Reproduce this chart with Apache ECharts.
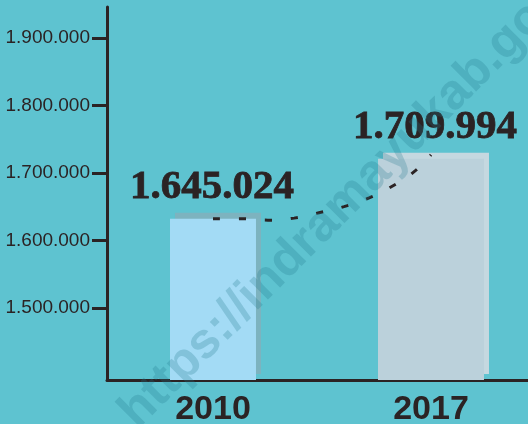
<!DOCTYPE html>
<html>
<head>
<meta charset="utf-8">
<script src="https://cdn.jsdelivr.net/npm/echarts@6/dist/echarts.min.js"></script>
<style>
  html, body { margin: 0; padding: 0; background: #5ec3d0; }
  #main { width: 528px; height: 424px; }
</style>
</head>
<body>
<div id="main"></div>
<script>
// categories and values
const years = ['2010', '2017'];
const printedValues = [1645024, 1709994];   // numbers written above the bars
const barValues = [1632000, 1721000];       // bar tops as drawn
const yTicks = [1500000, 1600000, 1700000, 1800000, 1900000];

// dotted trend curve (x in category units)
const trendX = [0, 0.133, 0.252, 0.372, 0.486, 0.601, 0.716, 0.826, 0.927, 1];
const trendY = [1632000, 1632000, 1630000, 1633000, 1641000, 1650000, 1663000, 1681000, 1703000, 1727000];

const dark = '#2b2324';
const barColors = ['#a3dbf5', '#bbd1db'];
const shadowColors = ['#7db3bf', '#c5d8e0'];
const barWidths = [86, 106];
const yMin = 1393000;

const dotted = n => String(n).replace(/\B(?=(\d{3})+(?!\d))/g, '.');

const myChart = echarts.init(document.getElementById('main'));

const option = {
    backgroundColor: '#5ec3d0',
    animation: false,
    grid: { left: 107, right: 0, top: 7, bottom: 44, outerBoundsMode: 'none' },
    xAxis: {
        type: 'value',
        min: -0.4862,
        max: 1.445,
        splitLine: { show: false },
        axisTick: { show: false },
        axisLine: { show: true, onZero: false, lineStyle: { color: dark, width: 3 } },
        axisLabel: {
            customValues: [0, 1],
            formatter: v => years[Math.round(v)],
            color: dark,
            fontSize: 34,
            fontWeight: 'bold',
            fontFamily: 'Liberation Sans',
            margin: 13
        }
    },
    yAxis: {
        type: 'value',
        min: yMin,
        max: 1946000,
        splitLine: { show: false },
        axisLine: { show: true, onZero: false, lineStyle: { color: dark, width: 3 } },
        axisTick: {
            show: true,
            customValues: yTicks,
            length: 15,
            lineStyle: { color: dark, width: 3 }
        },
        axisLabel: {
            customValues: yTicks,
            formatter: v => dotted(v),
            color: dark,
            fontSize: 19,
            fontFamily: 'Liberation Sans',
            margin: 17
        }
    },
    series: [
        {
            type: 'custom',
            z: 2,
            data: barValues.map((v, i) => [i, v]),
            renderItem: function (params, api) {
                const i = params.dataIndex;
                const top = api.coord([api.value(0), api.value(1)]);
                const base = api.coord([api.value(0), yMin]);
                const w = barWidths[i];
                const h = base[1] - top[1];
                return {
                    type: 'group',
                    children: [
                        {
                            type: 'rect',
                            shape: { x: top[0] - w / 2 + 5, y: top[1] - 6, width: w, height: h },
                            style: { fill: shadowColors[i] }
                        },
                        {
                            type: 'rect',
                            shape: { x: top[0] - w / 2, y: top[1], width: w, height: h },
                            style: { fill: barColors[i] }
                        },
                        {
                            type: 'text',
                            x: top[0] + (i === 0 ? -1 : 4),
                            y: top[1] - 31,
                            style: {
                                text: dotted(printedValues[i]),
                                fill: dark,
                                stroke: dark,
                                lineWidth: 0.8,
                                font: 'bold 41px "Liberation Serif"',
                                align: 'center',
                                verticalAlign: 'middle'
                            }
                        }
                    ]
                };
            }
        },
        {
            type: 'line',
            z: 3,
            smooth: true,
            showSymbol: false,
            data: trendX.map((x, i) => [x, trendY[i]]),
            lineStyle: { color: dark, width: 3, type: [7, 19] }
        }
    ],
    graphic: [
        {
            type: 'text',
            z: 100,
            x: 128,
            y: 420,
            rotation: Math.PI / 4,
            style: {
                text: 'https://indramayukab.go.id',
                fill: 'rgba(30, 120, 140, 0.25)',
                font: 'bold 50px "Liberation Sans"',
                align: 'left',
                verticalAlign: 'middle'
            }
        }
    ]
};

myChart.setOption(option);
</script>
</body>
</html>
